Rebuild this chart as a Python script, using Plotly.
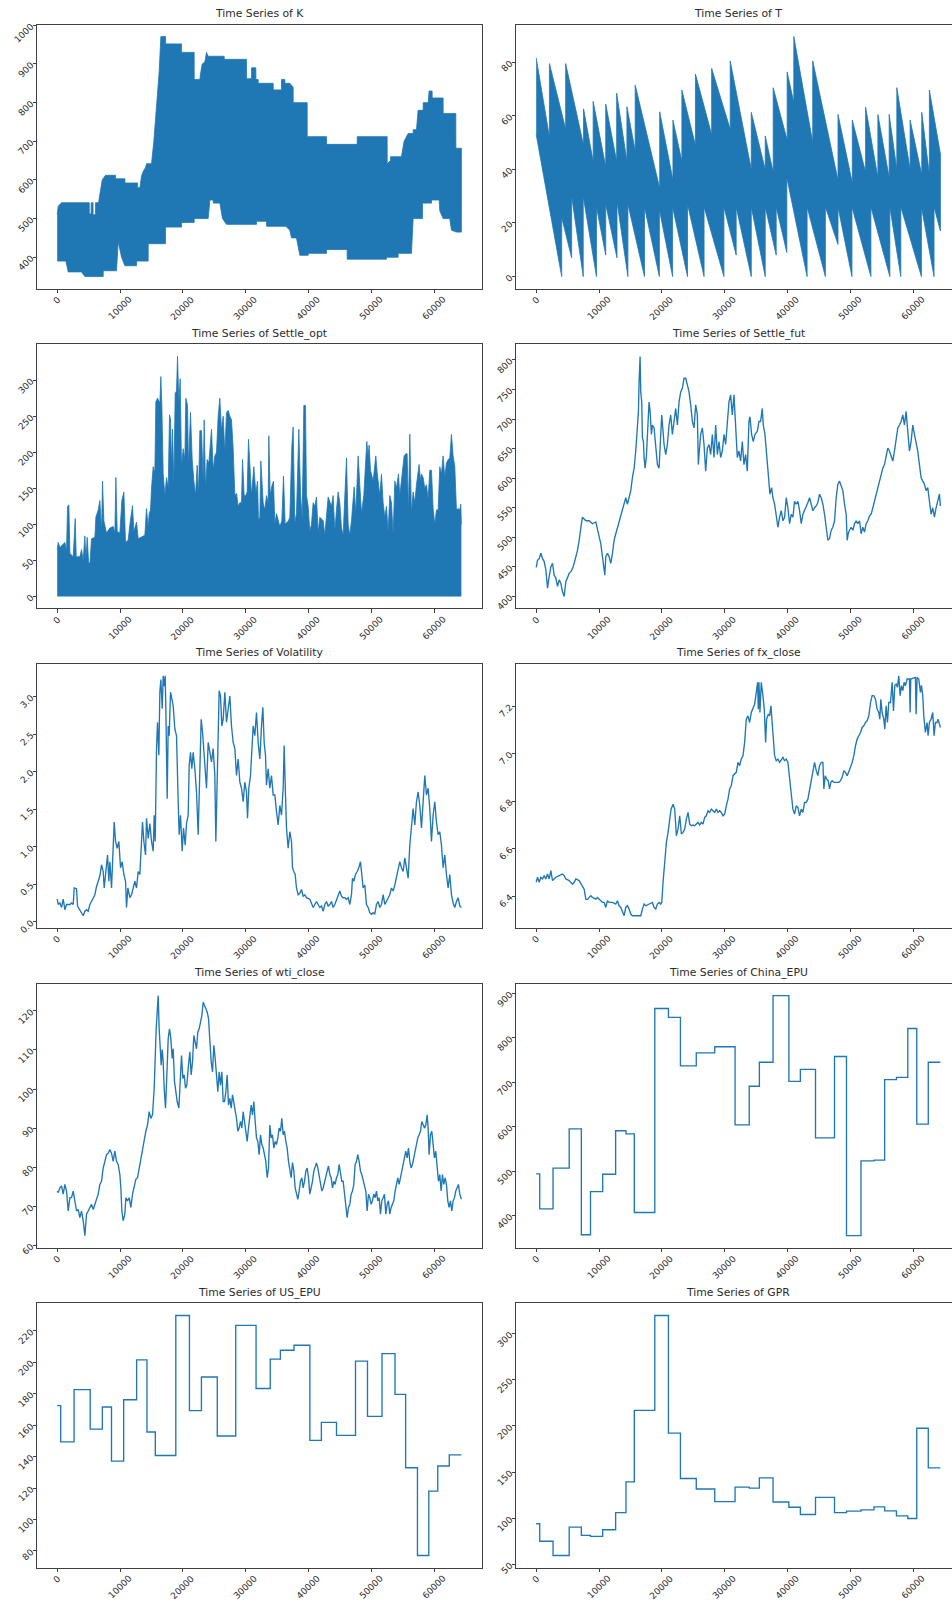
import plotly.graph_objects as go

# ---------------------------------------------------------------- data
LAST_INDEX = 64340
X_TICKS = [0, 10000, 20000, 30000, 40000, 50000, 60000]
X_TICK_TEXT = ["0", "10000", "20000", "30000", "40000", "50000", "60000"]

# K: dense strike series, drawn as the band between its upper and lower envelope
K_UPPER_X = [0, 160, 690, 5090, 5100, 5110, 5400, 5410, 5700, 5710, 6100, 6110, 6580, 7160, 7690,
             9280, 9300, 10770, 10790, 12790, 12800, 13160, 13420, 13690, 14060, 14220, 15010,
             15380, 15810, 16230, 16500, 17240, 17260, 19790, 19800, 21800, 21810, 22700, 22870,
             23080, 23500, 23770, 24030, 26580, 26590, 30130, 30140, 30930, 30940, 31620, 31630,
             31990, 32000, 34380, 34390, 35700, 35710, 36230, 36240, 37030, 37560, 37570, 39790,
             39800, 42860, 42870, 47750, 47760, 52520, 52530, 53050, 53060, 54800, 55220, 55860,
             56660, 56670, 57190, 57450, 58250, 58260, 59050, 59200, 59680, 59690, 61430, 61440,
             63450, 63460, 64340]
K_UPPER = [511, 532, 541, 541, 541, 512, 512, 541, 541, 510, 510, 541, 541, 600, 612,
           612, 603, 603, 592, 592, 580, 580, 610, 622, 632, 642, 642,
           700, 800, 880, 971, 971, 952, 952, 930, 930, 860, 860, 880,
           900, 905, 930, 920, 920, 912, 912, 862, 862, 890, 890, 860,
           860, 850, 850, 833, 833, 860, 860, 850, 850, 840, 800, 800,
           712, 712, 692, 692, 712, 712, 642, 650, 660, 660, 700, 720,
           720, 730, 730, 780, 780, 800, 800, 830, 830, 812, 812, 772,
           772, 682, 682]
K_LOWER_X = [0, 1380, 1750, 3870, 4400, 7320, 7330, 9440, 9710, 10240, 10770, 12630, 12640, 14480,
             14490, 17240, 17250, 19790, 19800, 21800, 21810, 24030, 24300, 24830, 24840, 25890,
             26310, 26950, 31720, 31730, 33320, 33330, 36390, 37030, 37290, 38090, 38620, 39950,
             39960, 42860, 42870, 46150, 46160, 52410, 52420, 54270, 54280, 56390, 56660, 58140,
             58150, 59580, 59590, 60800, 60900, 61430, 62490, 62760, 63550, 64340]
K_LOWER = [390, 390, 362, 362, 350, 350, 365, 365, 440, 400, 378, 378, 390, 390,
           435, 435, 478, 478, 490, 490, 500, 500, 548, 548, 540, 540,
           500, 485, 485, 493, 493, 480, 480, 470, 450, 450, 405, 405,
           410, 410, 420, 420, 395, 395, 400, 400, 410, 410, 500, 500,
           540, 540, 548, 548, 520, 500, 500, 470, 465, 465]
K_TICKS = [400, 500, 600, 700, 800, 900, 1000]

# T: days to maturity; maximum jumps when a contract is listed, minimum resets at expiry
T_LIST_X = [0, 2108, 4690, 7536, 9064, 11067, 12806, 14440, 15757, 19657, 21765, 23188, 25348,
            27931, 30882, 34234, 36456, 37725, 39947, 41005, 44020, 48041, 50316, 52432, 54389,
            56187, 57404, 59520, 61372, 62588]
T_MAX_START = [81.6, 79.5, 79.5, 62.6, 65.4, 64.4, 68.5, 63.4, 71.5, 61.5, 58.4, 69.6, 75.6,
               77.7, 80.5, 61.3, 52.5, 70.5, 76.4, 89.6, 80.5, 60.5, 58.4, 63.3, 60.5,
               60.5, 70.5, 58.4, 61.3, 69.6]
T_MAX_END = [52, 55, 49, 43, 41, 43, 43, 47, 33, 36, 43, 49, 53,
             55, 40, 40, 39, 51, 65, 50, 36, 35, 39, 37, 37,
             40, 40, 38, 38, 45.8]
T_EXPIRY_X = [4058, 5639, 7483, 9591, 11067, 12859, 14598, 17233, 19604, 21712, 24084, 26719,
              29881, 31831, 34234, 36456, 38201, 39894, 43121, 46031, 48041, 50263, 53278,
              56293, 58039, 61319, 63329]
T_MIN_LOW = [0, 7, 0, 0, 8, 7, 0, 0, 0, 0, 0, 0,
             0, 8, 0, 0, 8, 9, 0, 0, 12, 0, 0,
             0, 0, 0, 0]
T_MIN_RESET = [22, 30, 30, 26, 27, 28, 27, 26, 25, 26, 27, 26,
               26, 26, 26, 26, 26, 37, 26, 26, 26, 26, 26,
               26, 26, 26, 26]
T_MIN_FIRST = 53
T_MIN_LAST = 17
T_TICKS = [0, 20, 40, 60, 80]

# Settle_opt: peak envelope of the dense option settlement series (floor at 0)
OPT_X = [0, 159, 424, 955, 1220, 1485, 1645, 1857, 2016, 2546, 2865, 3024, 3607, 3873, 4138, 4403,
         4562, 4775, 4987, 5199, 5464, 5995, 6154, 6525, 6790, 7056, 7215, 7427, 7851, 8382, 8912,
         9178, 9337, 9549, 9973, 10292, 10610, 10875, 11300, 11565, 11989, 12202, 12626, 12891,
         13422, 13952, 14217, 14483, 14642, 14854, 15013, 15278, 15544, 15703, 15968, 16339,
         16499, 16658, 16870, 17135, 17400, 17666, 17878, 18037, 18196, 18355, 18568, 18780,
         18992, 19151, 19363, 19575, 19788, 20053, 20318, 20477, 20743, 20902, 21220, 21485,
         21751, 22016, 22281, 22493, 22705, 22971, 23236, 23395, 23607, 23873, 24138, 24562,
         24827, 25093, 25358, 25623, 25888, 26154, 26419, 26684, 26949, 27215, 27480, 27745,
         28010, 28276, 28541, 28806, 29071, 29337, 29496, 29761, 30026, 30239, 30451, 30663,
         30928, 31300, 31618, 31883, 32042, 32254, 32414, 32785, 33050, 33315, 33581, 33687,
         33899, 34164, 34429, 34641, 34907, 35437, 35756, 36021, 36286, 36817, 37029, 37347,
         37559, 37825, 38090, 38461, 38727, 38992, 39257, 39522, 39681, 39947, 40212, 40477,
         40742, 41008, 41273, 41538, 41803, 42334, 42599, 43130, 43395, 43660, 43925, 44191,
         44456, 44721, 44986, 45252, 45517, 46047, 46313, 46578, 46843, 47268, 47533, 47904,
         48169, 48435, 48806, 49071, 49283, 49496, 49655, 49867, 50026, 50291, 50716, 50928,
         51352, 51618, 51883, 52148, 52413, 52679, 52944, 53209, 53474, 53740, 54005, 54323,
         54535, 54801, 55066, 55225, 55490, 55703, 55915, 56127, 56392, 56657, 56923, 57188,
         57612, 57825, 57984, 58249, 58514, 58779, 59045, 59310, 59575, 59840, 60106, 60371,
         60636, 60901, 61167, 61432, 61697, 61962, 62228, 62493, 62758, 63024, 63289, 63554,
         63819, 64084, 64243, 64340]
OPT_PEAK = [65, 75, 68, 72, 75, 62, 125, 127, 60, 55, 108, 55, 55, 65, 50, 84,
            52, 82, 48, 45, 80, 82, 110, 120, 133, 90, 160, 105, 88, 95, 97,
            88, 165, 90, 88, 133, 145, 75, 78, 100, 126, 90, 103, 80,
            82, 85, 122, 95, 115, 120, 150, 180, 172, 270, 275, 268,
            305, 265, 170, 140, 165, 150, 252, 245, 180, 232, 155, 282,
            285, 333, 268, 302, 180, 205, 190, 275, 265, 180, 255, 190,
            160, 140, 182, 140, 230, 230, 160, 245, 150, 190, 185, 232,
            175, 195, 200, 250, 275, 230, 250, 200, 255, 258, 250, 245,
            205, 140, 143, 125, 130, 130, 190, 140, 140, 145, 218, 180,
            140, 180, 143, 160, 105, 110, 188, 130, 120, 140, 130, 223,
            140, 153, 160, 100, 115, 97, 105, 167, 100, 105, 110, 208,
            235, 102, 115, 232, 145, 105, 265, 265, 140, 125, 90, 100,
            130, 125, 138, 88, 110, 105, 85, 138, 130, 125, 140, 90,
            120, 145, 130, 95, 85, 192, 100, 85, 105, 152, 115, 195,
            155, 115, 140, 175, 215, 195, 210, 175, 170, 160, 195, 172,
            140, 170, 130, 110, 125, 90, 140, 130, 85, 160, 150, 170,
            140, 160, 180, 195, 198, 198, 115, 225, 115, 145, 130, 155,
            183, 160, 170, 165, 150, 155, 135, 175, 175, 122, 100, 120,
            120, 180, 170, 195, 165, 185, 190, 192, 225, 195, 180, 120,
            122, 120, 128, 100]
OPT_TICKS = [0, 50, 100, 150, 200, 250, 300]

# Settle_fut
FUT_X = [0, 212, 477, 742, 1007, 1272, 1537, 1802, 2067, 2332, 2597, 2862, 3127, 3392, 3657, 3922,
         4187, 4452, 4717, 4982, 5247, 5512, 5777, 6042, 6307, 6572, 6837, 7102, 7261, 7367, 7897,
         8427, 8957, 9487, 9752, 10017, 10282, 10547, 10812, 10918, 11077, 11342, 11607, 11872,
         12137, 12402, 12667, 12932, 13197, 13462, 13727, 13992, 14257, 14522, 14787, 15052,
         15317, 15582, 15847, 16006, 16165, 16271, 16377, 16536, 16642, 16801, 16907, 17066,
         17172, 17331, 17543, 17702, 17861, 17967, 18126, 18338, 18497, 18762, 19027, 19292,
         19557, 19822, 19981, 20193, 20352, 20617, 20882, 21147, 21412, 21677, 21942, 22207,
         22472, 22737, 23002, 23267, 23532, 23797, 24062, 24327, 24592, 24857, 25122, 25387,
         25652, 25811, 25917, 26182, 26447, 26712, 26977, 27242, 27507, 27772, 28037, 28302,
         28567, 28832, 29097, 29362, 29627, 29892, 30157, 30422, 30687, 30952, 31217, 31482,
         31747, 32012, 32277, 32542, 32807, 33072, 33337, 33602, 33867, 34026, 34291, 34556,
         34821, 35192, 35457, 35722, 35987, 36146, 36411, 36623, 36835, 37047, 37206, 37471,
         37683, 37948, 38213, 38478, 38743, 39008, 39273, 39538, 39803, 40068, 40333, 40598,
         40863, 41128, 41393, 41658, 41923, 42188, 42453, 42718, 42983, 43248, 43513, 43778,
         44043, 44308, 44573, 44838, 45103, 45368, 45633, 45898, 46163, 46428, 46693, 46958,
         47223, 47488, 47753, 48018, 48283, 48548, 48813, 49078, 49343, 49502, 49661, 49873,
         50138, 50403, 50668, 50933, 51198, 51463, 51728, 51993, 52258, 52523, 52788, 53053,
         53318, 53583, 53848, 54113, 54378, 54643, 54908, 55173, 55438, 55703, 55968, 56233,
         56498, 56763, 57028, 57293, 57558, 57823, 58088, 58353, 58618, 58883, 59148, 59413,
         59678, 59943, 60208, 60473, 60738, 61003, 61268, 61533, 61798, 62063, 62328, 62593,
         62858, 63123, 63388, 63653, 63918, 64183, 64340]
FUT = [449, 461, 464, 473, 464, 459, 445, 414, 434, 450, 456, 436, 431, 417, 428, 422,
       408, 400, 425, 434, 439, 442, 447, 456, 467, 478, 495, 523, 528, 534, 528,
       528, 523, 526, 515, 501, 489, 467, 439, 436, 467, 473, 467, 456,
       473, 495, 506, 517, 528, 539, 545, 556, 567, 556, 567, 579,
       601, 617, 646, 674, 696, 713, 763, 806, 746, 729, 668, 662,
       635, 617, 637, 690, 707, 729, 713, 674, 690, 685, 646, 623,
       617, 679, 707, 679, 657, 640, 657, 690, 707, 674, 701, 718,
       690, 729, 746, 752, 769, 769, 758, 746, 724, 696, 685, 724,
       707, 623, 640, 674, 685, 657, 612, 651, 657, 640, 674, 635,
       690, 640, 662, 635, 646, 674, 657, 696, 729, 741, 707, 741,
       674, 635, 646, 629, 662, 623, 640, 612, 696, 704, 674, 662,
       674, 679, 696, 696, 718, 690, 674, 646, 617, 601, 573, 584,
       567, 556, 534, 517, 534, 545, 528, 534, 567, 550, 523, 539,
       534, 561, 556, 561, 545, 523, 539, 545, 550, 559, 567, 556,
       545, 550, 553, 559, 573, 567, 556, 539, 512, 495, 498, 512,
       517, 528, 567, 590, 595, 587, 579, 556, 539, 495, 506, 512,
       517, 512, 523, 528, 523, 528, 506, 517, 509, 523, 528, 536,
       539, 550, 561, 573, 584, 595, 606, 617, 623, 635, 651, 646,
       635, 629, 646, 662, 685, 690, 696, 707, 690, 713, 674, 646,
       662, 690, 674, 662, 646, 623, 601, 595, 590, 579, 584, 561,
       539, 550, 534, 550, 561, 573, 553]
FUT_TICKS = [400, 450, 500, 550, 600, 650, 700, 750, 800]

# Volatility
VOL_X = [0, 159, 424, 690, 955, 1220, 1485, 2016, 2281, 2546, 2706, 3077, 3236, 3607, 3873, 4138,
         4403, 4668, 4934, 5199, 5464, 5729, 5995, 6260, 6525, 6790, 7056, 7321, 7480, 7745, 8011,
         8223, 8382, 8647, 8912, 9072, 9284, 9549, 9814, 10080, 10345, 10610, 10875, 11034,
         11247, 11565, 11830, 12095, 12361, 12626, 12891, 13156, 13422, 13581, 13793, 14058,
         14217, 14483, 14748, 15013, 15278, 15438, 15597, 15703, 15809, 15968, 16180, 16339,
         16499, 16711, 16870, 17029, 17188, 17294, 17400, 17507, 17666, 17825, 18037, 18249,
         18461, 18727, 18992, 19257, 19416, 19629, 19894, 20106, 20371, 20583, 20849, 21008,
         21220, 21432, 21644, 21910, 22175, 22440, 22705, 22918, 23130, 23342, 23607, 23766,
         24032, 24297, 24562, 24827, 25093, 25252, 25464, 25623, 25782, 25995, 26207, 26419,
         26684, 26949, 27215, 27480, 27745, 28010, 28276, 28541, 28806, 29071, 29337, 29602,
         29867, 30132, 30292, 30504, 30769, 30981, 31193, 31459, 31724, 31989, 32254, 32520,
         32732, 32944, 33156, 33315, 33581, 33846, 34111, 34376, 34642, 34907, 35172, 35437,
         35703, 35968, 36127, 36339, 36498, 36764, 37029, 37294, 37453, 37666, 37878, 38090,
         38355, 38621, 38886, 39151, 39416, 39681, 40212, 40742, 41008, 41273, 41538, 41803,
         42069, 42334, 42599, 42864, 43130, 43395, 43660, 43925, 44191, 44456, 44721, 44986,
         45252, 45517, 45782, 46047, 46313, 46578, 46843, 47002, 47215, 47480, 47745, 48010,
         48276, 48488, 48700, 48965, 49230, 49496, 49761, 50026, 50291, 50557, 50822, 51087,
         51352, 51618, 51883, 52148, 52413, 52679, 52944, 53209, 53474, 53740, 54005, 54270,
         54535, 54801, 55066, 55331, 55596, 55862, 56127, 56392, 56657, 56923, 57188, 57453,
         57718, 57984, 58249, 58514, 58779, 59045, 59310, 59575, 59840, 60106, 60371, 60636,
         60901, 61167, 61432, 61697, 61962, 62228, 62493, 62758, 63024, 63289, 63554, 63819,
         64084, 64340]
VOL = [0.30, 0.23, 0.25, 0.19, 0.30, 0.16, 0.23, 0.23, 0.25, 0.23, 0.45, 0.44, 0.21, 0.16, 0.12, 0.08,
       0.14, 0.16, 0.14, 0.23, 0.27, 0.32, 0.36, 0.47, 0.54, 0.61, 0.76, 0.67, 0.45, 0.72, 0.89,
       0.54, 0.80, 0.45, 1.07, 1.33, 1.07, 0.98, 1.07, 0.72, 0.80, 0.63, 0.54, 0.19,
       0.45, 0.32, 0.36, 0.45, 0.54, 0.45, 0.67, 0.63, 1.02, 1.33, 1.07, 0.89,
       1.38, 1.11, 1.31, 1.07, 0.94, 1.42, 1.07, 1.95, 2.31, 2.66, 2.22, 3.06,
       3.23, 2.84, 3.28, 3.14, 3.28, 2.84, 2.26, 1.64, 2.61, 2.48, 3.06, 2.97,
       2.88, 2.57, 2.48, 1.60, 1.16, 1.42, 0.94, 1.25, 1.02, 1.31, 1.42, 2.08,
       2.26, 2.04, 2.26, 2.04, 1.73, 1.16, 1.86, 2.70, 2.53, 2.26, 1.95, 1.78,
       2.39, 2.26, 2.13, 2.31, 1.95, 1.07, 1.95, 2.84, 3.08, 3.01, 2.61, 2.70,
       3.06, 2.66, 2.84, 3.01, 2.61, 2.39, 2.31, 1.95, 2.17, 1.86, 1.78, 1.60,
       1.86, 1.73, 1.38, 1.78, 1.95, 2.39, 2.61, 2.48, 2.79, 2.39, 2.17, 2.61,
       2.86, 2.39, 2.22, 1.82, 2.04, 1.78, 1.95, 1.69, 1.69, 1.47, 1.29, 1.55,
       1.42, 1.78, 2.35, 1.69, 1.25, 0.98, 1.20, 1.07, 0.72, 0.67, 0.63, 0.45,
       0.36, 0.38, 0.43, 0.34, 0.36, 0.32, 0.30, 0.19, 0.23, 0.27, 0.23, 0.19,
       0.21, 0.14, 0.23, 0.27, 0.21, 0.23, 0.27, 0.19, 0.23, 0.30, 0.36, 0.41,
       0.34, 0.32, 0.32, 0.30, 0.32, 0.23, 0.36, 0.58, 0.54, 0.63, 0.67, 0.72,
       0.80, 0.58, 0.45, 0.49, 0.23, 0.19, 0.12, 0.10, 0.12, 0.10, 0.23, 0.27,
       0.19, 0.23, 0.36, 0.23, 0.27, 0.32, 0.36, 0.45, 0.41, 0.49, 0.58, 0.67,
       0.80, 0.72, 0.67, 0.85, 0.72, 0.58, 1.02, 1.33, 1.51, 1.29, 1.60, 1.73,
       1.55, 1.25, 1.64, 1.95, 1.69, 1.78, 1.51, 1.07, 1.42, 1.60, 1.33, 1.16,
       1.20, 1.02, 0.72, 0.89, 0.63, 0.45, 0.63, 0.36, 0.25, 0.19, 0.27, 0.32,
       0.21, 0.19]
VOL_TICKS = [0.0, 0.5, 1.0, 1.5, 2.0, 2.5, 3.0]
VOL_TICK_TEXT = ["0.0", "0.5", "1.0", "1.5", "2.0", "2.5", "3.0"]

# fx_close
FX_X = [0, 212, 477, 742, 1007, 1272, 1537, 1802, 2067, 2332, 2597, 2862, 3127, 3657, 4187, 4452,
        4717, 5247, 5777, 6042, 6307, 6837, 7367, 7632, 7897, 8162, 8427, 8692, 8957, 9487, 9752,
        10017, 10282, 10547, 10812, 11077, 11342, 11607, 12137, 12667, 12932, 13197, 13462,
        13727, 13992, 14257, 14522, 14787, 15052, 15317, 15847, 16377, 16642, 16907, 17172,
        17437, 17967, 18232, 18497, 18762, 19027, 19292, 19557, 19822, 19981, 20193, 20458,
        20723, 20988, 21253, 21465, 21783, 22048, 22313, 22578, 22843, 23108, 23373, 23638,
        23903, 24168, 24433, 24698, 24963, 25228, 25493, 25758, 26023, 26288, 26553, 26818,
        27083, 27348, 27613, 27878, 28143, 28408, 28673, 28938, 29203, 29468, 29733, 29998,
        30263, 30528, 30793, 31058, 31323, 31588, 31853, 32118, 32383, 32648, 32913, 33178,
        33443, 33708, 33973, 34238, 34503, 34768, 35033, 35245, 35351, 35457, 35616, 35828,
        36093, 36305, 36517, 36676, 36941, 37153, 37365, 37524, 37736, 37948, 38213, 38478,
        38743, 39008, 39273, 39538, 39803, 40068, 40227, 40439, 40651, 40863, 41128, 41393,
        41658, 41923, 42188, 42453, 42718, 42983, 43248, 43513, 43778, 44043, 44308, 44573,
        44838, 45103, 45368, 45633, 45792, 46004, 46216, 46481, 46693, 46905, 47117, 47382,
        47647, 47912, 48177, 48442, 48707, 48972, 49237, 49502, 49767, 50032, 50297, 50562,
        50827, 51092, 51357, 51622, 51887, 52152, 52417, 52682, 52947, 53212, 53477, 53742,
        54007, 54272, 54537, 54696, 54855, 55067, 55332, 55491, 55703, 55915, 56127, 56392,
        56657, 56869, 57081, 57293, 57505, 57717, 57929, 58141, 58353, 58565, 58777, 59042,
        59413, 59519, 59625, 59943, 60367, 60473, 60632, 60897, 61162, 61321, 61533, 61692,
        61957, 62222, 62381, 62593, 62858, 63123, 63335, 63547, 63812, 63971, 64183, 64340]
FX = [6.458, 6.479, 6.458, 6.479, 6.472, 6.486, 6.472, 6.493, 6.472, 6.507, 6.465, 6.472, 6.479,
      6.486, 6.493, 6.486, 6.472, 6.465, 6.450, 6.458, 6.472, 6.465, 6.443, 6.429, 6.387, 6.385,
      6.394, 6.401, 6.394, 6.387, 6.394, 6.387, 6.380, 6.373, 6.373, 6.352, 6.380, 6.373, 6.373,
      6.366, 6.380, 6.359, 6.352, 6.338, 6.317, 6.352, 6.359, 6.345, 6.324, 6.317, 6.317, 6.320,
      6.317, 6.345, 6.366, 6.359, 6.366, 6.373, 6.373, 6.352, 6.345, 6.366, 6.373, 6.366, 6.373,
      6.458, 6.563, 6.626, 6.668, 6.738, 6.766, 6.787, 6.766, 6.654, 6.682, 6.738, 6.661, 6.668,
      6.682, 6.724, 6.752, 6.703, 6.696, 6.699, 6.696, 6.703, 6.710, 6.699, 6.710, 6.703, 6.731,
      6.738, 6.759, 6.752, 6.766, 6.759, 6.752, 6.766, 6.752, 6.759, 6.752, 6.738, 6.745, 6.780,
      6.808, 6.851, 6.865, 6.907, 6.914, 6.921, 6.963, 6.949, 6.977, 6.991, 7.047, 7.145, 7.159,
      7.131, 7.173, 7.194, 7.208, 7.258, 7.300, 7.187, 7.300, 7.173, 7.300, 7.244, 7.187, 7.047,
      7.145, 7.166, 7.159, 7.201, 7.131, 7.061, 6.991, 6.970, 6.977, 6.963, 6.977, 6.984, 6.970,
      6.977, 6.963, 6.921, 6.865, 6.808, 6.766, 6.745, 6.780, 6.773, 6.738, 6.766, 6.752, 6.794,
      6.794, 6.808, 6.851, 6.879, 6.935, 6.963, 6.928, 6.907, 6.949, 6.963, 6.963, 6.851, 6.907,
      6.893, 6.886, 6.851, 6.879, 6.886, 6.879, 6.879, 6.882, 6.879, 6.886, 6.900, 6.928, 6.921,
      6.907, 6.921, 6.942, 6.963, 6.991, 7.033, 7.061, 7.075, 7.089, 7.110, 7.117, 7.131, 7.138,
      7.159, 7.215, 7.244, 7.244, 7.229, 7.187, 7.173, 7.145, 7.229, 7.173, 7.145, 7.103, 7.201,
      7.131, 7.215, 7.215, 7.300, 7.180, 7.286, 7.293, 7.279, 7.328, 7.244, 7.286, 7.265, 7.300,
      7.286, 7.314, 7.314, 7.173, 7.314, 7.316, 7.321, 7.166, 7.321, 7.314, 7.258, 7.288, 7.244,
      7.159, 7.089, 7.131, 7.075, 7.131, 7.145, 7.173, 7.075, 7.131, 7.131, 7.145, 7.117, 7.110]
FX_TICKS = [6.4, 6.6, 6.8, 7.0, 7.2]
FX_TICK_TEXT = ["6.4", "6.6", "6.8", "7.0", "7.2"]

# wti_close
WTI_X = [0, 159, 424, 690, 955, 1220, 1485, 1751, 2016, 2281, 2546, 2812, 3077, 3342, 3607, 3873,
         4138, 4403, 4668, 4934, 5199, 5464, 5729, 5995, 6260, 6525, 6790, 7056, 7321, 7586, 7851,
         8117, 8382, 8647, 8912, 9178, 9443, 9708, 9973, 10133, 10292, 10504, 10769, 10928, 11194,
         11459, 11724, 11989, 12255, 12520, 12785, 13050, 13316, 13581, 13846, 14111, 14377,
         14642, 14907, 15172, 15438, 15597, 15756, 15915, 16074, 16233, 16392, 16552, 16711,
         16870, 17029, 17241, 17453, 17666, 17878, 18090, 18302, 18461, 18674, 18886, 19098,
         19363, 19575, 19788, 20000, 20212, 20424, 20636, 20849, 21114, 21326, 21538, 21751,
         21963, 22175, 22387, 22599, 22812, 23024, 23236, 23448, 23660, 23873, 24085, 24297,
         24509, 24721, 24934, 25146, 25358, 25570, 25782, 25995, 26207, 26419, 26631, 26843,
         27056, 27268, 27480, 27692, 27904, 28117, 28329, 28541, 28753, 28965, 29178, 29390,
         29602, 29814, 30026, 30239, 30451, 30663, 30875, 31087, 31300, 31512, 31724, 31936,
         32148, 32361, 32573, 32785, 32997, 33209, 33422, 33634, 33846, 34058, 34270, 34483,
         34695, 34907, 35119, 35331, 35544, 35756, 35968, 36180, 36392, 36605, 36817, 37029,
         37241, 37453, 37666, 37878, 38090, 38302, 38514, 38727, 38939, 39151, 39363, 39575,
         39788, 40000, 40212, 40424, 40636, 40849, 41061, 41273, 41485, 41697, 41910, 42122,
         42334, 42546, 42758, 42971, 43183, 43395, 43607, 43819, 44032, 44244, 44456, 44668,
         44880, 45093, 45305, 45517, 45729, 45941, 46154, 46366, 46578, 46790, 47002, 47215,
         47427, 47639, 47851, 48063, 48276, 48488, 48700, 48912, 49124, 49337, 49549, 49761,
         49973, 50185, 50398, 50610, 50822, 51034, 51246, 51459, 51671, 51883, 52095, 52307,
         52520, 52732, 52944, 53156, 53368, 53581, 53793, 54005, 54217, 54429, 54642, 54854,
         55066, 55278, 55490, 55703, 55915, 56127, 56339, 56551, 56764, 56976, 57188, 57400,
         57612, 57825, 58037, 58249, 58461, 58673, 58886, 59045, 59204, 59416, 59628, 59840,
         60053, 60265, 60477, 60689, 60901, 61114, 61326, 61538, 61750, 61962, 62175, 62387,
         62599, 62811, 63024, 63236, 63448, 63660, 63872, 64084, 64340]
WTI = [73.9, 73.5, 74.7, 75.2, 73.1, 75.6, 73.9, 68.8, 72.2, 72.2, 73.9, 71.8, 68.8, 69.2, 67.1, 68.8,
       66.3, 62.5, 68.0, 68.8, 69.7, 70.5, 69.2, 70.5, 72.2, 73.1, 75.6, 76.4, 79.8, 81.5, 83.2,
       83.6, 84.5, 83.6, 81.5, 84.1, 81.5, 80.7, 78.1, 74.7, 68.8, 66.3, 68.0, 72.2, 71.4,
       72.2, 69.7, 73.1, 74.7, 76.9, 77.3, 79.8, 82.4, 84.9, 86.6, 89.2, 90.8,
       94.2, 92.5, 93.4, 100.2, 110.3, 115.4, 119.7, 123.9, 115.4, 109.5, 106.1, 110.1,
       107.0, 100.2, 95.1, 103.6, 112.9, 115.4, 112.9, 107.8, 110.3, 101.9, 98.5, 96.8,
       95.1, 102.7, 108.6, 102.7, 103.6, 100.2, 101.0, 105.3, 109.5, 103.6, 107.0, 113.7,
       112.0, 110.3, 114.6, 115.4, 117.1, 118.8, 122.2, 121.4, 120.5, 119.7, 118.0, 111.2,
       107.0, 104.4, 111.2, 107.8, 103.6, 99.3, 104.4, 101.0, 104.4, 96.8, 96.8, 99.3,
       103.6, 95.9, 97.6, 95.1, 98.5, 96.8, 94.2, 92.5, 89.2, 90.0, 91.7, 90.0,
       94.2, 91.7, 88.3, 86.6, 90.0, 92.5, 95.9, 93.4, 96.8, 91.7, 87.5, 86.6,
       83.2, 88.3, 85.8, 84.9, 83.2, 81.5, 77.3, 79.8, 90.8, 87.5, 88.3, 84.9,
       86.6, 85.8, 87.5, 90.0, 89.2, 92.5, 88.3, 89.2, 86.6, 84.9, 81.5, 79.8,
       77.3, 81.2, 79.0, 74.7, 73.1, 71.8, 73.9, 76.4, 77.3, 74.7, 76.4, 79.0,
       79.8, 77.3, 73.1, 74.7, 76.4, 79.0, 80.3, 81.1, 79.8, 78.1, 76.4, 73.9,
       74.7, 76.4, 78.1, 79.0, 80.3, 78.1, 77.3, 74.7, 76.4, 75.6, 77.3, 78.1,
       80.7, 78.1, 76.4, 76.4, 73.1, 68.8, 67.1, 69.7, 70.5, 73.1, 73.9, 75.6,
       80.7, 81.5, 83.2, 81.5, 79.0, 78.1, 76.4, 74.7, 73.9, 68.8, 73.1, 72.2,
       70.5, 71.4, 73.1, 72.2, 73.9, 71.4, 72.2, 68.0, 71.4, 72.2, 73.1, 68.0,
       70.5, 71.4, 68.0, 69.7, 70.5, 71.4, 73.9, 75.6, 77.3, 75.6, 77.3, 79.8,
       81.5, 82.4, 84.1, 82.4, 84.9, 81.5, 79.8, 80.7, 82.4, 84.9, 86.6, 87.5,
       88.3, 89.2, 91.7, 90.8, 90.0, 90.8, 93.4, 90.0, 83.2, 88.3, 89.2, 85.8,
       82.4, 84.1, 80.7, 76.4, 78.1, 73.9, 78.1, 75.6, 77.3, 75.6, 71.4, 69.7,
       71.4, 68.8, 71.4, 72.2, 73.9, 74.7, 75.6, 73.1, 71.8]
WTI_TICKS = [60, 70, 80, 90, 100, 110, 120]

# monthly indices: first row index of each month
MONTH_START = [0, 560, 2680, 5250, 7185, 8640, 10580, 12645, 14290, 15615, 18877, 21050, 22960,
               25480, 28420, 31655, 33910, 35525, 37700, 40220, 42050, 44460, 47485, 49393,
               51700, 53770, 55465, 57345, 59150, 60580, 62410]
CHINA_EPU = [494, 415, 507, 595, 357, 454, 493, 591, 584, 407, 866, 846, 737,
             766, 780, 604, 691, 745, 895, 702, 729, 575, 758, 355,
             523, 525, 706, 711, 821, 606, 745]
CHINA_TICKS = [400, 500, 600, 700, 800, 900]
US_EPU = [172.4, 149.3, 182.6, 157.5, 171.5, 137.1, 176.1, 201.5, 155.6, 140.7, 229.7, 169.2,
          190.6, 153.1, 223.4, 183.3, 202.0, 207.6, 210.8, 150.3, 161.7, 153.5, 200.7, 165.6,
          205.5, 179.5, 132.9, 77.1, 118.0, 134.0, 141.1]
US_TICKS = [80, 100, 120, 140, 160, 180, 200, 220]
GPR = [94.1, 75.1, 59.7, 90.5, 81.5, 80.4, 87.6, 106.2, 139.5, 216.9, 319.7, 192.2, 143.1,
       131.7, 118.0, 133.8, 132.7, 143.8, 117.7, 112.0, 104.1, 122.7, 106.2, 107.7,
       109.1, 112.3, 108.0, 102.6, 99.8, 197.6, 154.6]
GPR_TICKS = [50, 100, 150, 200, 250, 300]

# ---------------------------------------------------------------- styling
W, H = 952, 1604
BLUE = "#1f77b4"
INK = "#2b2b2b"
SPINE = "#404040"
FONT = "DejaVu Sans"
COL_X = [(37.0, 481.6), (516.0, 952.0)]
AX_W = COL_X[0][1] - COL_X[0][0]
ROW_TOP = [21.7, 344.0, 665.7, 988.0, 1310.3]
AX_H = 266.0


def padded(lo, hi, frac=0.05):
    span = hi - lo
    return [lo - frac * span, hi + frac * span]


def line(x, y, shape="linear"):
    return go.Scatter(x=x, y=y, mode="lines", line=dict(color=BLUE, width=1.35, shape=shape),
                      hoverinfo="skip")


def band(x, y):
    return go.Scatter(x=x, y=y, mode="lines", fill="toself", fillcolor=BLUE,
                      line=dict(color=BLUE, width=0.8), hoverinfo="skip")


# K band polygon
k_x = K_UPPER_X + K_LOWER_X[::-1]
k_y = K_UPPER + K_LOWER[::-1]

# T band: max-maturity sawtooth on top, min-maturity sawtooth below
t_up_x, t_up_y = [], []
for i, start in enumerate(T_LIST_X):
    stop = T_LIST_X[i + 1] if i + 1 < len(T_LIST_X) else LAST_INDEX
    t_up_x += [start, stop]
    t_up_y += [T_MAX_START[i], T_MAX_END[i]]
t_lo_x, t_lo_y = [0], [T_MIN_FIRST]
for xe, lo, reset in zip(T_EXPIRY_X, T_MIN_LOW, T_MIN_RESET):
    t_lo_x += [xe, xe]
    t_lo_y += [lo, reset]
t_lo_x.append(LAST_INDEX)
t_lo_y.append(T_MIN_LAST)
t_x = t_up_x + t_lo_x[::-1]
t_y = t_up_y + t_lo_y[::-1]

month_x = MONTH_START + [LAST_INDEX]

panels = [
    ("K", [band(k_x, k_y)], K_TICKS, None, padded(min(K_LOWER), max(K_UPPER))),
    ("T", [band(t_x, t_y)], T_TICKS, None, padded(min(t_lo_y), max(t_up_y))),
    ("Settle_opt",
     [go.Scatter(x=OPT_X, y=OPT_PEAK, mode="lines", fill="tozeroy", fillcolor=BLUE,
                 line=dict(color=BLUE, width=0.8), hoverinfo="skip")],
     OPT_TICKS, None, padded(0, max(OPT_PEAK))),
    ("Settle_fut", [line(FUT_X, FUT)], FUT_TICKS, None, padded(min(FUT), max(FUT))),
    ("Volatility", [line(VOL_X, VOL)], VOL_TICKS, VOL_TICK_TEXT, padded(min(VOL), max(VOL))),
    ("fx_close", [line(FX_X, FX)], FX_TICKS, FX_TICK_TEXT, padded(min(FX), max(FX))),
    ("wti_close", [line(WTI_X, WTI)], WTI_TICKS, None, padded(min(WTI), max(WTI))),
    ("China_EPU", [line(month_x, CHINA_EPU + CHINA_EPU[-1:], "hv")], CHINA_TICKS, None,
     padded(min(CHINA_EPU), max(CHINA_EPU))),
    ("US_EPU", [line(month_x, US_EPU + US_EPU[-1:], "hv")], US_TICKS, None,
     padded(min(US_EPU), max(US_EPU))),
    ("GPR", [line(month_x, GPR + GPR[-1:], "hv")], GPR_TICKS, None, padded(min(GPR), max(GPR))),
]

x_full = padded(0, LAST_INDEX)
unit_px = AX_W / (x_full[1] - x_full[0])
x_right = [x_full[0], x_full[0] + (COL_X[1][1] - COL_X[1][0]) / unit_px]

fig = go.Figure()
annotations = []
for i, (name, traces, yticks, yticktext, yrange) in enumerate(panels):
    n = i + 1
    sfx = "" if n == 1 else str(n)
    row, col = divmod(i, 2)
    x0, x1 = COL_X[col]
    top = ROW_TOP[row]
    bottom = top + AX_H
    for tr in traces:
        tr.update(xaxis="x" + sfx, yaxis="y" + sfx, showlegend=False)
        fig.add_trace(tr)
    fig.layout["xaxis" + sfx] = dict(
        domain=[x0 / W, x1 / W], range=x_full if col == 0 else x_right, anchor="y" + sfx,
        showline=True, linecolor=SPINE, linewidth=1, mirror=True,
        ticks="outside", ticklen=3.2, tickwidth=0.8, tickcolor=SPINE,
        tickvals=X_TICKS, showticklabels=False, showgrid=False, zeroline=False,
    )
    fig.layout["yaxis" + sfx] = dict(
        domain=[1 - bottom / H, 1 - top / H], range=yrange, anchor="x" + sfx,
        showline=True, linecolor=SPINE, linewidth=1, mirror=(col == 0),
        ticks="outside", ticklen=3.2, tickwidth=0.8, tickcolor=SPINE,
        tickvals=yticks, ticktext=yticktext if yticktext else [str(v) for v in yticks],
        tickangle=-45, tickfont=dict(family=FONT, size=9, color=INK),
        showgrid=False, zeroline=False,
    )
    # rotated x tick labels, centred under each tick
    for tv, tt in zip(X_TICKS, X_TICK_TEXT):
        annotations.append(dict(
            x=tv, xref="x" + sfx, y=1 - (bottom + 4.5) / H, yref="paper",
            text=tt, showarrow=False, textangle=-45, xanchor="center", yanchor="top",
            font=dict(family=FONT, size=9, color=INK), borderpad=0,
        ))
    annotations.append(dict(
        x=(x0 + AX_W / 2) / W, xref="paper", y=1 - (top - 3.5) / H, yref="paper",
        text="Time Series of " + name, showarrow=False, xanchor="center", yanchor="bottom",
        font=dict(family=FONT, size=10.8, color="#2b2b2b"), borderpad=0,
    ))

fig.update_layout(
    width=W, height=H, autosize=False,
    margin=dict(l=0, r=0, t=0, b=0, pad=0),
    paper_bgcolor="white", plot_bgcolor="white",
    showlegend=False, annotations=annotations,
)

fig.write_html("out.html", config={"displayModeBar": False})
